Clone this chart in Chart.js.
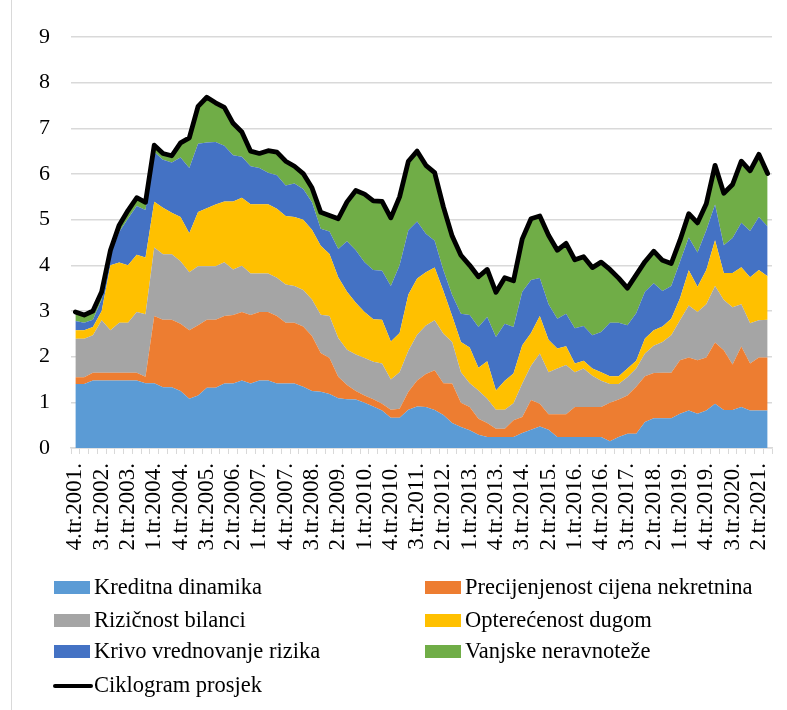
<!DOCTYPE html>
<html>
<head>
<meta charset="utf-8">
<script src="https://cdn.jsdelivr.net/npm/chart.js@4.4.1/dist/chart.umd.min.js"></script>
<style>
html,body{margin:0;padding:0;background:#fff;}
#wrap{position:relative;width:787px;height:710px;overflow:hidden;background:#fff;}
#c{position:absolute;left:0;top:0;}
#frame{position:absolute;left:11px;top:0;width:1px;height:710px;background:#d9d9d9;}
.lg-text{position:absolute;font-family:"Liberation Serif","Times New Roman",serif;font-size:22.5px;line-height:22.5px;color:#000;white-space:nowrap;}
.lg-box{position:absolute;width:36px;height:12.5px;}
.lg-line{position:absolute;width:40px;height:4.5px;border-radius:2.25px;}
</style>
</head>
<body>
<div id="wrap">
  <canvas id="c" width="787" height="710"></canvas>
  <div id="legend"></div>
  <div id="frame"></div>
</div>
<script>
const categories = [
  "4.tr.2001.",
  "1.tr.2002.","2.tr.2002.","3.tr.2002.","4.tr.2002.",
  "1.tr.2003.","2.tr.2003.","3.tr.2003.","4.tr.2003.",
  "1.tr.2004.","2.tr.2004.","3.tr.2004.","4.tr.2004.",
  "1.tr.2005.","2.tr.2005.","3.tr.2005.","4.tr.2005.",
  "1.tr.2006.","2.tr.2006.","3.tr.2006.","4.tr.2006.",
  "1.tr.2007.","2.tr.2007.","3.tr.2007.","4.tr.2007.",
  "1.tr.2008.","2.tr.2008.","3.tr.2008.","4.tr.2008.",
  "1.tr.2009.","2.tr.2009.","3.tr.2009.","4.tr.2009.",
  "1.tr.2010.","2.tr.2010.","3.tr.2010.","4.tr.2010.",
  "1.tr.2011.","2.tr.2011.","3.tr.2011.","4.tr.2011.",
  "1.tr.2012.","2.tr.2012.","3.tr.2012.","4.tr.2012.",
  "1.tr.2013.","2.tr.2013.","3.tr.2013.","4.tr.2013.",
  "1.tr.2014.","2.tr.2014.","3.tr.2014.","4.tr.2014.",
  "1.tr.2015.","2.tr.2015.","3.tr.2015.","4.tr.2015.",
  "1.tr.2016.","2.tr.2016.","3.tr.2016.","4.tr.2016.",
  "1.tr.2017.","2.tr.2017.","3.tr.2017.","4.tr.2017.",
  "1.tr.2018.","2.tr.2018.","3.tr.2018.","4.tr.2018.",
  "1.tr.2019.","2.tr.2019.","3.tr.2019.","4.tr.2019.",
  "1.tr.2020.","2.tr.2020.","3.tr.2020.","4.tr.2020.",
  "1.tr.2021.","2.tr.2021.","3.tr.2021."
];

const kreditnaDinamika = [
  1.40,1.40,1.48,1.48,1.48,1.48,1.48,1.48,1.42,1.42,
  1.33,1.33,1.25,1.08,1.15,1.32,1.32,1.41,1.41,1.48,
  1.41,1.48,1.48,1.41,1.41,1.41,1.34,1.25,1.23,1.18,
  1.09,1.07,1.06,0.99,0.91,0.82,0.66,0.66,0.84,0.91,
  0.90,0.83,0.72,0.55,0.46,0.39,0.29,0.24,0.24,0.24,
  0.24,0.33,0.40,0.47,0.40,0.24,0.24,0.24,0.24,0.24,
  0.24,0.15,0.24,0.31,0.31,0.57,0.65,0.65,0.65,0.75,
  0.82,0.75,0.82,0.97,0.83,0.83,0.90,0.82,0.82,0.82
];
const precijenjenostCijena = [
  0.15,0.15,0.17,0.17,0.17,0.17,0.17,0.17,0.14,1.47,
  1.48,1.48,1.47,1.50,1.54,1.49,1.49,1.48,1.50,1.50,
  1.50,1.50,1.50,1.48,1.33,1.33,1.32,1.20,0.85,0.79,
  0.47,0.31,0.19,0.16,0.16,0.15,0.18,0.20,0.39,0.57,
  0.72,0.87,0.70,0.86,0.53,0.51,0.35,0.31,0.18,0.18,
  0.37,0.35,0.65,0.50,0.34,0.50,0.50,0.66,0.66,0.66,
  0.66,0.84,0.82,0.84,1.03,1.00,0.99,1.00,1.00,1.17,
  1.16,1.17,1.16,1.34,1.31,1.00,1.32,1.03,1.16,1.16
];
const rizicnostBilanci = [
  0.84,0.84,0.82,1.15,0.93,1.09,1.09,1.33,1.37,1.50,
  1.43,1.43,1.37,1.27,1.29,1.17,1.17,1.18,1.00,1.01,
  0.91,0.84,0.84,0.84,0.84,0.81,0.80,0.80,0.84,0.92,
  0.85,0.77,0.80,0.82,0.82,0.88,0.66,0.80,0.90,1.00,
  1.06,1.10,1.08,0.91,0.67,0.52,0.62,0.53,0.42,0.42,
  0.37,0.73,0.75,1.10,0.92,1.00,1.08,0.76,0.84,0.68,
  0.57,0.41,0.34,0.40,0.40,0.50,0.60,0.67,0.82,0.88,
  1.14,1.06,1.17,1.24,1.10,1.25,0.93,0.88,0.82,0.83
];
const opterecenostDugom = [
  0.19,0.19,0.18,0.20,1.42,1.32,1.26,1.25,1.24,1.00,
  1.02,0.91,0.97,0.85,1.19,1.27,1.35,1.33,1.49,1.49,
  1.52,1.52,1.52,1.51,1.50,1.51,1.54,1.53,1.51,1.36,
  1.33,1.27,1.13,1.01,0.93,0.96,0.83,0.86,1.23,1.23,
  1.17,1.15,0.94,0.57,0.66,0.78,0.50,0.82,0.42,0.63,
  0.65,0.84,0.72,0.82,0.71,0.44,0.41,0.19,0.17,0.16,
  0.19,0.17,0.17,0.19,0.17,0.33,0.34,0.34,0.36,0.48,
  0.77,0.55,0.75,1.00,0.59,0.75,0.81,1.01,1.10,0.95
];
const krivoVrednovanje = [
  0.20,0.16,0.16,0.25,0.24,0.67,1.02,1.07,1.04,1.09,
  1.05,1.10,1.30,1.43,1.49,1.44,1.37,1.22,1.01,0.90,
  0.83,0.79,0.69,0.73,0.67,0.73,0.67,0.60,0.37,0.49,
  0.62,1.11,1.15,1.09,1.08,1.07,1.22,1.48,1.41,1.25,
  0.84,0.59,0.45,0.46,0.62,0.71,0.89,0.97,1.17,1.25,
  1.02,1.17,1.16,0.83,0.78,0.65,0.71,0.77,0.76,0.73,
  0.88,1.17,1.17,0.95,1.04,1.02,1.03,0.78,0.72,0.80,
  0.72,0.75,0.87,0.78,0.61,0.77,0.97,1.01,1.16,1.09
];
const vanjskeNeravnoteze = [
  0.20,0.17,0.19,0.17,0.09,0.15,0.18,0.18,0.17,0.15,
  0.14,0.15,0.32,0.66,0.82,0.99,0.86,0.84,0.70,0.54,
  0.33,0.32,0.48,0.51,0.53,0.38,0.34,0.32,0.36,0.35,
  0.66,0.86,1.31,1.49,1.51,1.52,1.49,1.50,1.51,1.54,
  1.50,1.49,1.39,1.29,1.28,1.09,1.10,1.04,0.98,1.01,
  1.01,1.16,1.34,1.36,1.51,1.50,1.54,1.50,1.52,1.48,
  1.53,1.17,0.98,0.81,0.84,0.66,0.70,0.67,0.49,0.47,
  0.52,0.65,0.58,0.86,1.14,1.17,1.35,1.32,1.37,1.16
];
const ciklogramProsjek = [
  2.98,2.91,3.00,3.42,4.33,4.88,5.20,5.48,5.38,6.63,
  6.45,6.40,6.68,6.79,7.48,7.68,7.56,7.46,7.11,6.92,
  6.50,6.45,6.51,6.48,6.28,6.17,6.01,5.70,5.16,5.09,
  5.02,5.39,5.64,5.56,5.41,5.40,5.04,5.50,6.28,6.50,
  6.19,6.03,5.28,4.64,4.22,4.00,3.75,3.91,3.41,3.73,
  3.66,4.58,5.02,5.08,4.66,4.33,4.48,4.12,4.19,3.95,
  4.07,3.91,3.72,3.50,3.79,4.08,4.31,4.11,4.04,4.55,
  5.13,4.93,5.35,6.19,5.58,5.77,6.28,6.07,6.43,6.01
];

const seriesNames = [
  "Kreditna dinamika",
  "Precijenjenost cijena nekretnina",
  "Rizičnost bilanci",
  "Opterećenost dugom",
  "Krivo vrednovanje rizika",
  "Vanjske neravnoteže",
  "Ciklogram prosjek"
];
const seriesColors = ["#5B9BD5","#ED7D31","#A5A5A5","#FFC000","#4472C4","#70AD47","#000000"];
const areaSeries = [kreditnaDinamika, precijenjenostCijena, rizicnostBilanci, opterecenostDugom, krivoVrednovanje, vanjskeNeravnoteze];

Chart.defaults.font.family = "'Liberation Serif','Times New Roman',serif";
Chart.defaults.color = "#000";

const datasets = areaSeries.map((vals, i) => ({
  label: seriesNames[i],
  data: vals,
  stack: "komponente",
  backgroundColor: seriesColors[i],
  borderColor: "rgba(0,0,0,0)",
  borderWidth: 0,
  pointRadius: 0,
  tension: 0,
  fill: i === 0 ? "origin" : "-1"
}));
datasets.push({
  label: seriesNames[6],
  data: ciklogramProsjek,
  stack: "prosjek",
  borderColor: "#000",
  backgroundColor: "#000",
  borderWidth: 4.8,
  borderJoinStyle: "round",
  borderCapStyle: "round",
  pointRadius: 0,
  tension: 0,
  fill: false,
  order: -1
});

const chart = new Chart(document.getElementById("c"), {
  type: "line",
  data: { labels: categories, datasets: datasets },
  options: {
    responsive: false,
    animation: false,
    events: [],
    layout: { padding: { top: 37, right: 15, left: 0, bottom: 0 } },
    plugins: { legend: { display: false }, tooltip: { enabled: false } },
    scales: {
      x: {
        offset: true,
        afterFit: (s) => { s.height = 262; s.paddingLeft = 0; s.paddingRight = 0; },
        grid: { display: true, drawOnChartArea: false, drawTicks: true, tickLength: 6, offset: true, color: "#d9d9d9", lineWidth: 1 },
        border: { display: true, color: "#d9d9d9", width: 1.5 },
        ticks: {
          autoSkip: false, maxRotation: 90, minRotation: 90, padding: 9,
          font: { size: 23 }, color: "#000",
          callback: function (v, i) { return i % 3 === 0 ? this.getLabelForValue(v) : ""; }
        }
      },
      y: {
        stacked: true,
        min: 0, max: 9,
        afterFit: (s) => { s.width = 71; },
        grid: { color: "#d9d9d9", lineWidth: 1.4, drawTicks: false },
        border: { display: false },
        ticks: { stepSize: 1, padding: 21, font: { size: 22 }, color: "#000" }
      }
    }
  }
});

// HTML legend built from the chart's datasets (two columns, row by row)
const legendCols = [54, 425];
const legendBaselines = [595, 628, 659, 693];
const legendEl = document.getElementById("legend");
chart.data.datasets.forEach((ds, i) => {
  const col = legendCols[i % 2];
  const base = legendBaselines[Math.floor(i / 2)];
  const sw = document.createElement("div");
  if (ds.fill === false) {
    sw.className = "lg-line";
    sw.style.left = (col - 1) + "px";
    sw.style.top = (base - 9.25) + "px";
    sw.style.background = ds.borderColor;
  } else {
    sw.className = "lg-box";
    sw.style.left = col + "px";
    sw.style.top = (base - 14) + "px";
    sw.style.background = ds.backgroundColor;
  }
  legendEl.appendChild(sw);
  const tx = document.createElement("div");
  tx.className = "lg-text";
  tx.style.left = (col + 40) + "px";
  tx.style.top = (base - 18.85) + "px";
  tx.textContent = ds.label;
  legendEl.appendChild(tx);
});
</script>
</body>
</html>
